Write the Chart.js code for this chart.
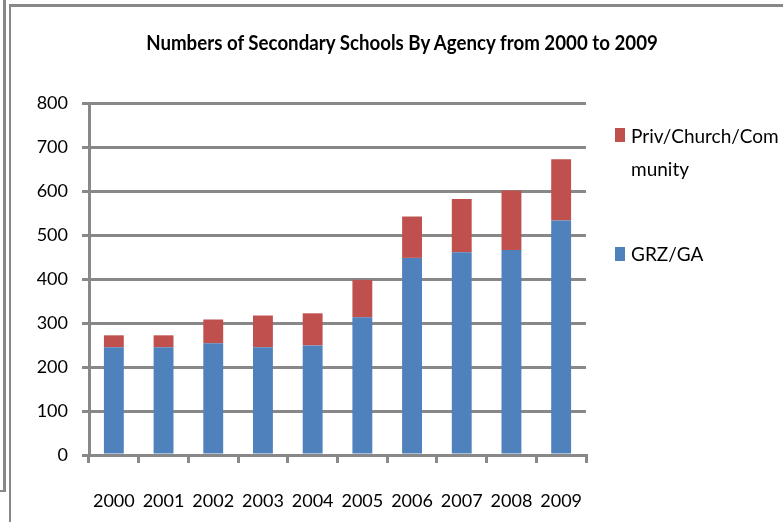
<!DOCTYPE html>
<html>
<head>
<meta charset="utf-8">
<title>Numbers of Secondary Schools By Agency</title>
<script src="https://cdn.jsdelivr.net/npm/chart.js@4.4.1/dist/chart.umd.min.js"></script>
<style>
  html, body { margin: 0; padding: 0; background: #fff; }
  #wrap { position: relative; width: 783px; height: 522px; overflow: hidden; font-family: Lato, "Noto Sans", sans-serif; color: #000; }
  #chart { position: absolute; left: 0; top: 0; }
  /* double frame at the top-left */
  .frame-outer { position: absolute; left: 0; top: -4px; width: 3px; height: 494px; border-right: 3px solid #888; border-bottom: 2px solid #888; }
  .frame-inner { position: absolute; left: 9px; top: 4px; width: 800px; height: 600px; border-left: 2px solid #888; border-top: 3px solid #888; }
  #title { position: absolute; left: 402px; top: 29px; transform: translateX(-50%) scaleX(0.935); white-space: nowrap; font-weight: 700; font-size: 20px; line-height: 26px; }
  .legend-item { position: absolute; left: 615px; font-size: 19px; line-height: 33px; }
  .legend-box { position: absolute; left: 0; width: 10px; height: 14px; }
  .legend-text { position: absolute; left: 16px; width: 150px; word-break: break-all; }
</style>
</head>
<body>
<div id="wrap">
  <div class="frame-outer"></div>
  <div class="frame-inner"></div>
  <canvas id="chart" width="783" height="522"></canvas>
  <div id="title"></div>
  <div id="legend"></div>
</div>
<script>
// Data
const years = ['2000', '2001', '2002', '2003', '2004', '2005', '2006', '2007', '2008', '2009'];
const grzGa = [245, 245, 254, 245, 249, 313, 448, 461, 466, 533];
const privChurch = [27, 27, 54, 72, 73, 85, 94, 121, 135, 139];
const seriesNames = ['GRZ/GA', 'Priv/Church/Community'];
const seriesColors = ['#4f81bd', '#c0504d'];
const titleText = 'Numbers of Secondary  Schools  By Agency from 2000 to 2009';
const yMin = 0, yMax = 800, yStep = 100;

const gridGrey = '#888';
const tickFont = { family: 'Lato', size: 18 };

document.getElementById('title').textContent = titleText;

// Legend on the right, top entry is the upper stack
const legendTops = [{ box: 128, text: 119 }, { box: 247, text: 237 }];
const legend = document.getElementById('legend');
[1, 0].forEach((idx, i) => {
  const item = document.createElement('div');
  item.className = 'legend-item';
  item.style.top = legendTops[i].text + 'px';
  item.innerHTML = `<div class="legend-box" style="top:${legendTops[i].box - legendTops[i].text}px;background:${seriesColors[idx]}"></div>` +
    `<div class="legend-text">${seriesNames[idx]}</div>`;
  legend.appendChild(item);
});

const ctx = document.getElementById('chart').getContext('2d');
const chart = new Chart(ctx, {
  type: 'bar',
  data: {
    labels: years,
    datasets: [
      { label: seriesNames[0], data: grzGa, backgroundColor: seriesColors[0], borderWidth: 0 },
      { label: seriesNames[1], data: privChurch, backgroundColor: seriesColors[1], borderWidth: 0 },
    ],
  },
  options: {
    responsive: false,
    animation: false,
    datasets: { bar: { barPercentage: 0.4, categoryPercentage: 1.0 } },
    layout: { padding: { left: 29, right: 197, top: 103, bottom: 0 } },
    plugins: {
      legend: { display: false },
      title: { display: false },
      tooltip: { enabled: false },
    },
    scales: {
      x: {
        stacked: true,
        grid: { drawOnChartArea: false, drawTicks: true, tickLength: 8, color: gridGrey, lineWidth: 3 },
        border: { color: gridGrey, width: 3 },
        ticks: { color: '#000', font: tickFont, padding: 27, maxRotation: 0 },
        afterFit: s => { s.height = 67; },
      },
      y: {
        stacked: true,
        min: yMin,
        max: yMax,
        ticks: { stepSize: yStep, color: '#000', font: tickFont, padding: 14 },
        grid: { color: gridGrey, lineWidth: 3, tickLength: 7 },
        border: { color: gridGrey, width: 3 },
        afterFit: s => { s.width = 60; },
      },
    },
  },
});
</script>
</body>
</html>
